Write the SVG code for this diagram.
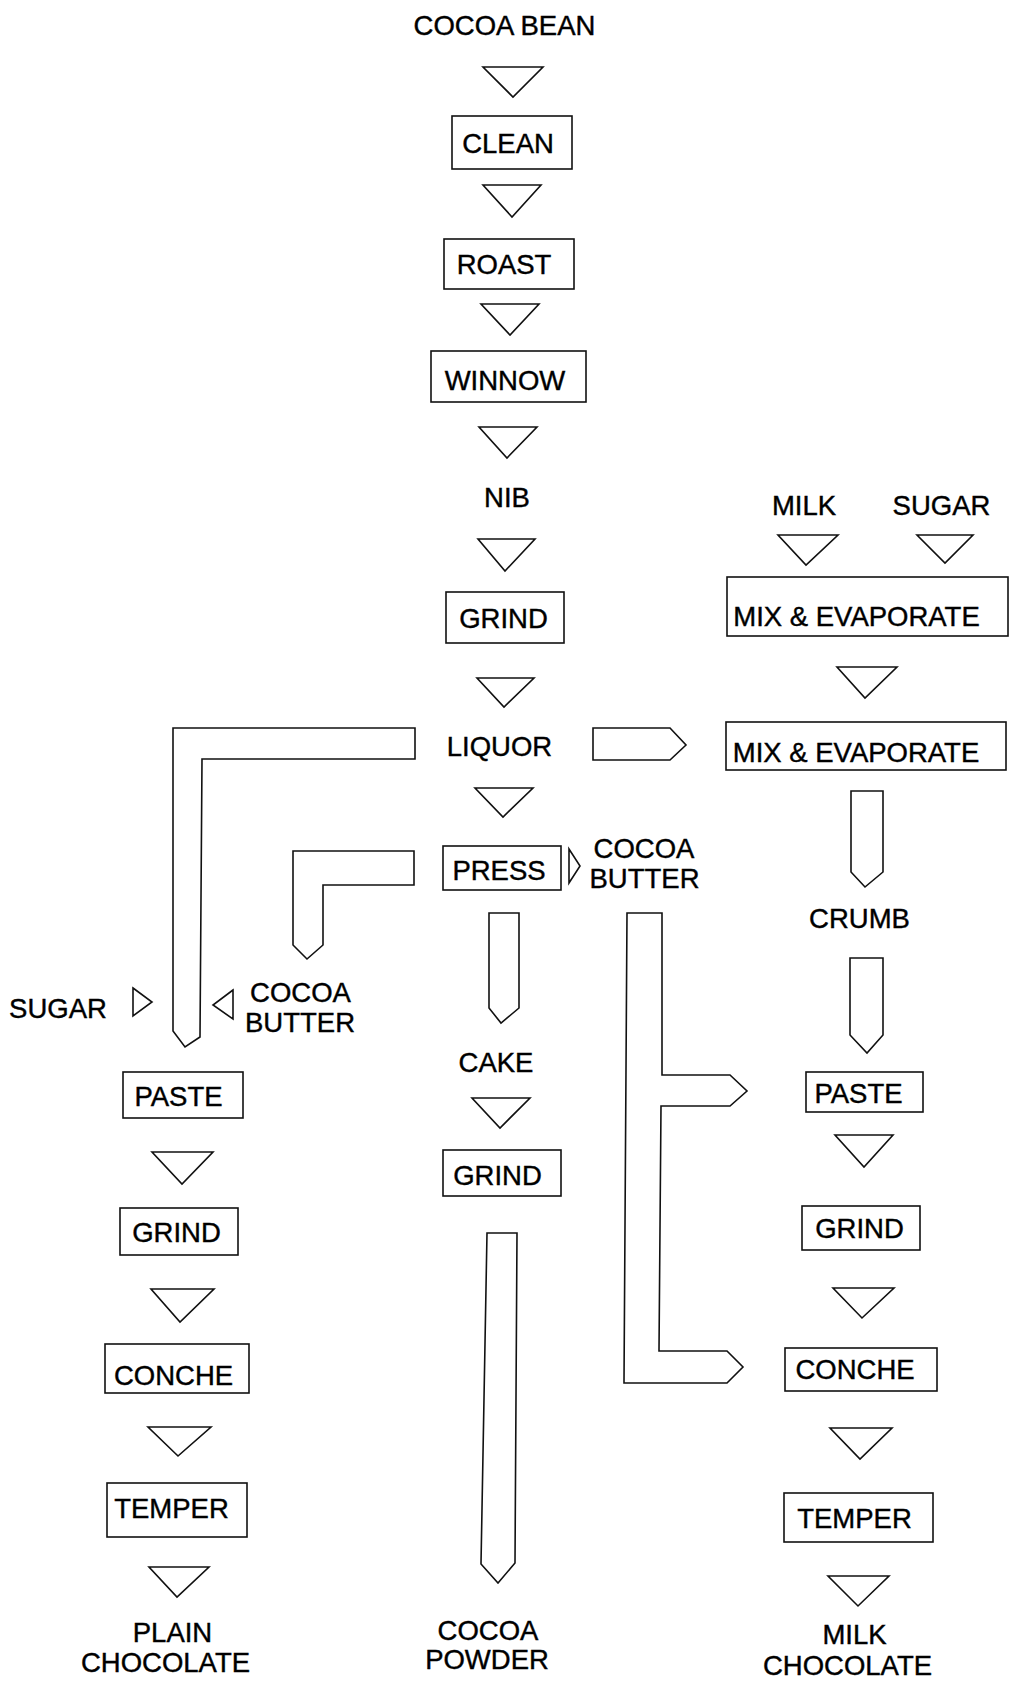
<svg xmlns="http://www.w3.org/2000/svg" width="1009" height="1683" viewBox="0 0 1009 1683">
<style>
.bg{fill:#fff}
.box{fill:none;stroke:#111;stroke-width:1.6}
.t{font-family:"Liberation Sans",Arial,sans-serif;font-size:27.5px;text-anchor:middle;fill:#000;stroke:#000;stroke-width:0.4}
.c polygon,.c path{fill:none;stroke:#111;stroke-width:1.6;stroke-linejoin:miter}
</style>
<rect class="bg" x="0" y="0" width="1009" height="1683"/>

<g id="connectors" class="c">
  <!-- main column triangles -->
  <polygon points="483,67 543,67 513,97"/>
  <polygon points="483,185 541,185 512,217"/>
  <polygon points="481,304 539,304 510,335"/>
  <polygon points="479,427 537,427 507,458"/>
  <polygon points="478,539 535,539 505,571"/>
  <polygon points="477,678 534,678 504,707"/>
  <polygon points="475,788 533,788 503,817"/>
  <!-- right column triangles -->
  <polygon points="778,535 838,535 806,565"/>
  <polygon points="917,535 973,535 945,563"/>
  <polygon points="837,667 897,667 865,698"/>
  <polygon points="835,1135 893,1135 864,1167"/>
  <polygon points="833,1288 894,1288 862,1318"/>
  <polygon points="830,1428 892,1428 860,1459"/>
  <polygon points="828,1576 889,1576 858,1606"/>
  <!-- middle column -->
  <polygon points="472,1098 530,1098 500,1128"/>
  <!-- left column triangles -->
  <polygon points="152,1152 213,1152 182,1184"/>
  <polygon points="151,1289 214,1289 180,1322"/>
  <polygon points="148,1427 211,1427 178,1456"/>
  <polygon points="149,1567 209,1567 177,1597"/>
  <!-- small side triangles -->
  <polygon points="569,849 580,866 569,883"/>
  <polygon points="133,988 152,1002 133,1016"/>
  <polygon points="233,990 213,1005 233,1019"/>
  <!-- block arrows -->
  <path d="M415,728 H173 V1031 L185,1047 L200,1037 L202,759 H415 Z"/>
  <path d="M414,851 H293 V945 L307,959 L323,945 V885 H414 Z"/>
  <path d="M489,913 H519 V1008 L501,1023 L489,1008 Z"/>
  <path d="M593,728 H670 L686,745 L670,760 H593 Z"/>
  <path d="M627,913 H662 V1075 H730 L747,1091 L730,1106 H661 L659,1351 H727 L743,1367 L727,1383 H624 Z"/>
  <path d="M851,791 H883 V872 L865,887 L851,872 Z"/>
  <path d="M850,958 H883 V1035 L867,1053 L850,1035 Z"/>
  <path d="M487,1233 H517 L515,1563 L498,1583 L481,1564 Z"/>
</g>

<g id="cocoa-bean"><text class="t" x="504.5" y="35">COCOA BEAN</text></g>
<g id="clean"><rect class="box" x="452" y="116" width="120" height="53"/><text class="t" x="508" y="153">CLEAN</text></g>
<g id="roast"><rect class="box" x="444" y="239" width="130" height="50"/><text class="t" x="504" y="274">ROAST</text></g>
<g id="winnow"><rect class="box" x="431" y="351" width="155" height="51"/><text class="t" x="505" y="390">WINNOW</text></g>
<g id="nib"><text class="t" x="507" y="507">NIB</text></g>
<g id="grind-1"><rect class="box" x="446" y="592" width="118" height="51"/><text class="t" x="503.5" y="628">GRIND</text></g>
<g id="liquor"><text class="t" x="499.5" y="756">LIQUOR</text></g>
<g id="press"><rect class="box" x="443" y="846" width="118" height="44"/><text class="t" x="499" y="880">PRESS</text></g>
<g id="cocoa-butter-1"><text class="t" x="644" y="858">COCOA</text><text class="t" x="644.5" y="888">BUTTER</text></g>

<g id="milk"><text class="t" x="804" y="515">MILK</text></g>
<g id="sugar-1"><text class="t" x="941.5" y="515">SUGAR</text></g>
<g id="mix-evaporate-1"><rect class="box" x="727" y="577" width="281" height="59"/><text class="t" x="856.5" y="626">MIX &amp; EVAPORATE</text></g>
<g id="mix-evaporate-2"><rect class="box" x="726" y="722" width="280" height="48"/><text class="t" x="856" y="762">MIX &amp; EVAPORATE</text></g>
<g id="crumb"><text class="t" x="859.5" y="928">CRUMB</text></g>
<g id="paste-2"><rect class="box" x="806" y="1072" width="117" height="40"/><text class="t" x="858.5" y="1103">PASTE</text></g>
<g id="grind-4"><rect class="box" x="802" y="1206" width="118" height="44"/><text class="t" x="859.5" y="1238">GRIND</text></g>
<g id="conche-2"><rect class="box" x="785" y="1348" width="152" height="43"/><text class="t" x="855" y="1379">CONCHE</text></g>
<g id="temper-2"><rect class="box" x="784" y="1493" width="149" height="49"/><text class="t" x="854.5" y="1528">TEMPER</text></g>
<g id="milk-chocolate"><text class="t" x="854.5" y="1644">MILK</text><text class="t" x="847.5" y="1675">CHOCOLATE</text></g>

<g id="cake"><text class="t" x="496" y="1072">CAKE</text></g>
<g id="grind-2"><rect class="box" x="443" y="1150" width="118" height="46"/><text class="t" x="497.5" y="1185">GRIND</text></g>
<g id="cocoa-powder"><text class="t" x="488" y="1640">COCOA</text><text class="t" x="487" y="1669">POWDER</text></g>

<g id="sugar-2"><text class="t" x="58" y="1018">SUGAR</text></g>
<g id="cocoa-butter-2"><text class="t" x="300.5" y="1002">COCOA</text><text class="t" x="300" y="1032">BUTTER</text></g>
<g id="paste-1"><rect class="box" x="123" y="1072" width="120" height="46"/><text class="t" x="178.5" y="1106">PASTE</text></g>
<g id="grind-3"><rect class="box" x="120" y="1208" width="118" height="47"/><text class="t" x="176.5" y="1242">GRIND</text></g>
<g id="conche-1"><rect class="box" x="105" y="1344" width="144" height="49"/><text class="t" x="173.5" y="1385">CONCHE</text></g>
<g id="temper-1"><rect class="box" x="107" y="1483" width="140" height="54"/><text class="t" x="171.5" y="1518">TEMPER</text></g>
<g id="plain-chocolate"><text class="t" x="172.5" y="1642">PLAIN</text><text class="t" x="165.5" y="1672">CHOCOLATE</text></g>
</svg>
